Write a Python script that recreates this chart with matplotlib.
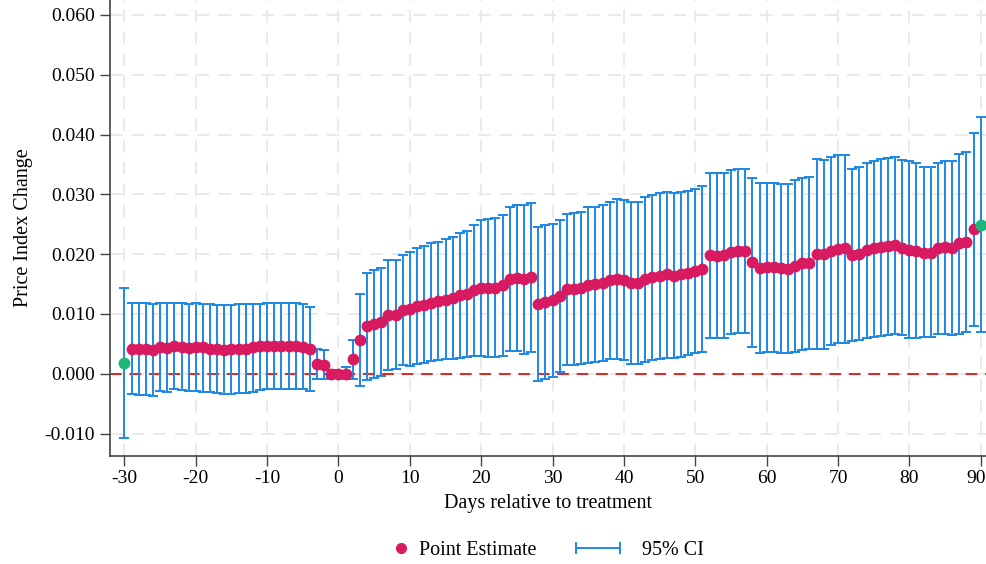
import numpy as np
import matplotlib
matplotlib.use("Agg")
from matplotlib import pyplot as plt
from matplotlib.lines import Line2D
import matplotlib.transforms as mtransforms

plt.rcParams['font.family'] = ['Liberation Serif', 'DejaVu Serif']

days = np.arange(-30, 91)

# point estimates, by block of days
est_pre = [0.0018, 0.0041, 0.0041, 0.0042, 0.0039, 0.0045, 0.0043, 0.0047, 0.0045, 0.0043,
           0.0045, 0.0044, 0.0042, 0.0041, 0.0040, 0.0041, 0.0042, 0.0041, 0.0044, 0.0046,
           0.0047, 0.0047, 0.0047, 0.0047, 0.0047, 0.0044, 0.0041, 0.0017, 0.0015, 0.0000,
           0.0000, 0.0000, 0.0024, 0.0056, 0.0079, 0.0083, 0.0086, 0.0098, 0.0099, 0.0107]
est_10 = [0.0108, 0.0113, 0.0115, 0.0119, 0.0122, 0.0124, 0.0126, 0.0132, 0.0134, 0.0140,
          0.0144, 0.0144, 0.0144, 0.0148, 0.0158, 0.0160, 0.0158, 0.0161, 0.0117, 0.0120]
est_30 = [0.0123, 0.0130, 0.0141, 0.0141, 0.0144, 0.0148, 0.0150, 0.0152, 0.0156, 0.0158,
          0.0157, 0.0152, 0.0152, 0.0158, 0.0162, 0.0164, 0.0166, 0.0164, 0.0166, 0.0169]
est_50 = [0.0172, 0.0175, 0.0198, 0.0197, 0.0198, 0.0204, 0.0206, 0.0206, 0.0187, 0.0177,
          0.0179, 0.0178, 0.0176, 0.0175, 0.0180, 0.0185, 0.0185, 0.0201, 0.0200, 0.0205]
est_70 = [0.0208, 0.0211, 0.0198, 0.0200, 0.0207, 0.0210, 0.0212, 0.0214, 0.0216, 0.0211,
          0.0207, 0.0206, 0.0202, 0.0202, 0.0211, 0.0212, 0.0210, 0.0218, 0.0220, 0.0242, 0.0249]

lo_pre = [-0.0107, -0.0034, -0.0036, -0.0035, -0.0037, -0.0029, -0.0030, -0.0026, -0.0028, -0.0029,
          -0.0029, -0.0030, -0.0031, -0.0033, -0.0034, -0.0034, -0.0033, -0.0033, -0.0030, -0.0028,
          -0.0026, -0.0025, -0.0025, -0.0025, -0.0025, -0.0026, -0.0029, -0.0008, -0.0008, -0.0006,
          -0.0006, -0.0008, -0.0008, -0.0021, -0.0011, -0.0007, -0.0004, 0.0007, 0.0008, 0.0015]
lo_10 = [0.0013, 0.0017, 0.0018, 0.0022, 0.0023, 0.0024, 0.0025, 0.0027, 0.0028, 0.0030,
         0.0030, 0.0028, 0.0028, 0.0030, 0.0038, 0.0038, 0.0033, 0.0036, -0.0012, -0.0009]
lo_30 = [-0.0006, 0.0003, 0.0015, 0.0015, 0.0017, 0.0018, 0.0020, 0.0022, 0.0024, 0.0025,
         0.0023, 0.0017, 0.0017, 0.0020, 0.0023, 0.0024, 0.0026, 0.0026, 0.0028, 0.0031]
lo_50 = [0.0034, 0.0037, 0.0060, 0.0059, 0.0059, 0.0066, 0.0068, 0.0068, 0.0045, 0.0035,
         0.0036, 0.0036, 0.0034, 0.0034, 0.0037, 0.0040, 0.0041, 0.0042, 0.0042, 0.0048]
lo_70 = [0.0051, 0.0052, 0.0055, 0.0056, 0.0059, 0.0061, 0.0063, 0.0064, 0.0066, 0.0065,
         0.0060, 0.0059, 0.0061, 0.0062, 0.0066, 0.0067, 0.0064, 0.0067, 0.0069, 0.0080, 0.0069]

hi_pre = [0.0144, 0.0118, 0.0118, 0.0118, 0.0116, 0.0119, 0.0118, 0.0119, 0.0118, 0.0117,
          0.0118, 0.0117, 0.0116, 0.0115, 0.0115, 0.0115, 0.0116, 0.0116, 0.0117, 0.0117,
          0.0118, 0.0119, 0.0119, 0.0119, 0.0119, 0.0116, 0.0112, 0.0041, 0.0039, 0.0006,
          0.0005, 0.0011, 0.0056, 0.0134, 0.0168, 0.0174, 0.0177, 0.0190, 0.0191, 0.0199]
hi_10 = [0.0204, 0.0210, 0.0213, 0.0218, 0.0221, 0.0226, 0.0229, 0.0235, 0.0239, 0.0249,
         0.0257, 0.0259, 0.0261, 0.0265, 0.0278, 0.0282, 0.0282, 0.0285, 0.0245, 0.0249]
hi_30 = [0.0251, 0.0257, 0.0267, 0.0268, 0.0271, 0.0278, 0.0279, 0.0282, 0.0288, 0.0292,
         0.0290, 0.0288, 0.0288, 0.0295, 0.0299, 0.0302, 0.0304, 0.0302, 0.0304, 0.0306]
hi_50 = [0.0309, 0.0314, 0.0335, 0.0336, 0.0336, 0.0341, 0.0342, 0.0343, 0.0328, 0.0319,
         0.0319, 0.0319, 0.0318, 0.0317, 0.0324, 0.0327, 0.0329, 0.0359, 0.0357, 0.0362]
hi_70 = [0.0365, 0.0366, 0.0342, 0.0345, 0.0353, 0.0356, 0.0359, 0.0361, 0.0363, 0.0357,
         0.0355, 0.0353, 0.0345, 0.0345, 0.0353, 0.0356, 0.0356, 0.0368, 0.0370, 0.0403, 0.0430]

est = np.array(est_pre + est_10 + est_30 + est_50 + est_70)
ci_lo = np.array(lo_pre + lo_10 + lo_30 + lo_50 + lo_70)
ci_hi = np.array(hi_pre + hi_10 + hi_30 + hi_50 + hi_70)

xticks = list(range(-30, 91, 10))
yticks = [-0.01, 0.0, 0.01, 0.02, 0.03, 0.04, 0.05, 0.06]

pink = '#D81B60'
blue = '#1E88E5'
green = '#1DB57A'

fig = plt.figure(figsize=(9.87, 5.64), dpi=100)
ax = fig.add_axes([110/987, 108/564, 877/987, 456/564])

ax.axhline(0, color='#E8201C', linestyle=(0, (6, 4)), linewidth=1.4, zorder=2)

ax.errorbar(days, est, yerr=[est - ci_lo, ci_hi - est], fmt='none', ecolor=blue,
            elinewidth=1.4, capsize=3.5, capthick=1.4, zorder=3)

ends = (days == -30) | (days == 90)
ax.plot(days[~ends], est[~ends], 'o', color=pink, markersize=7.5, zorder=4)
ax.plot(days[ends], est[ends], 'o', color=green, markersize=7.5, zorder=4)

ax.set_xlim(-32.02, 90.88)
ax.set_ylim(-0.01376, 0.0625)
ax.set_xticks(xticks)
ax.set_xticklabels([str(t) for t in xticks])
ax.set_yticks(yticks)
ax.set_yticklabels(['%.3f' % t for t in yticks])
ax.tick_params(axis='both', direction='out', length=7, width=1, color='#444444',
               labelsize=14)
ax.tick_params(axis='x', pad=3)
ax.tick_params(axis='y', pad=4)

# keep the last x label inside the picture
last = ax.get_xticklabels()[-1]
last.set_transform(last.get_transform() +
                   mtransforms.ScaledTranslation(-5/100, 0, fig.dpi_scale_trans))

ax.grid(True, color='#e8e8e8', linestyle=(0, (7, 5)), linewidth=1.3)
ax.set_axisbelow(True)
for s in ['top', 'right']:
    ax.spines[s].set_visible(False)
for s in ['left', 'bottom']:
    ax.spines[s].set_color('#444444')
    ax.spines[s].set_linewidth(1.2)

ax.set_xlabel('Days relative to treatment', fontsize=14.5, labelpad=5)
ax.set_ylabel('Price Index Change', fontsize=14.5, labelpad=8)

h_pt = Line2D([], [], linestyle='none', marker='o', color=pink, markersize=7)
h_ci = Line2D([0, 1], [0, 0], color=blue, linewidth=1.4, marker='|',
              markersize=8, markeredgewidth=1.4)
leg1 = fig.legend([h_pt], ['Point Estimate'], loc='center',
                  bbox_to_anchor=(466/987, 1 - 550/564), frameon=False,
                  fontsize=14.5, numpoints=1, handlelength=0.6, handletextpad=0.6)
leg2 = fig.legend([h_ci], ['95% CI'], loc='center',
                  bbox_to_anchor=(637/987, 1 - 550/564), frameon=False,
                  fontsize=14.5, numpoints=2, handlelength=2.8, handletextpad=0.8)

fig.savefig('out.png', dpi=100)
